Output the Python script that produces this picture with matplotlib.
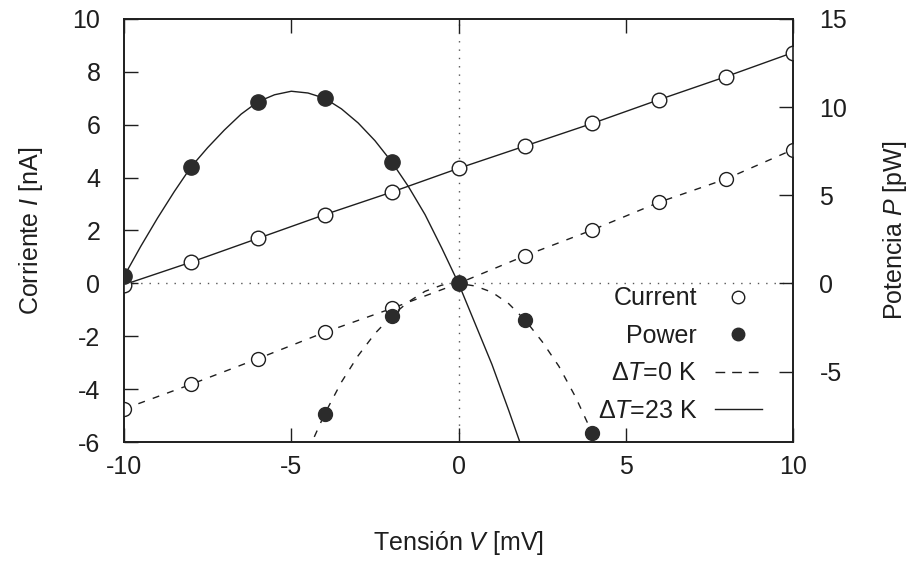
import numpy as np
import matplotlib
matplotlib.use('Agg')
from matplotlib import pyplot as plt
from matplotlib.lines import Line2D

plt.rcParams['font.family'] = 'Liberation Sans'
plt.rcParams['mathtext.fontset'] = 'custom'
plt.rcParams['mathtext.rm'] = 'Liberation Sans'
plt.rcParams['mathtext.it'] = 'Liberation Sans:italic'
plt.rcParams['axes.unicode_minus'] = False

# measured points (mV, nA, pW)
volts = [-10, -8, -6, -4, -2, 0, 2, 4, 6, 8, 10]
cur_dt23 = [-0.05, 0.8, 1.7, 2.6, 3.45, 4.35, 5.2, 6.05, 6.95, 7.82, 8.73]
cur_dt0 = [-4.75, -3.82, -2.85, -1.85, -0.95, 0.0, 1.05, 2.02, 3.07, 3.95, 5.06]

pow_v_dt23 = [-10, -8, -6, -4, -2, 0]
pow_dt23 = [0.42, 6.6, 10.3, 10.5, 6.9, 0.0]
pow_v_dt0 = [-4, -2, 0, 2, 4]
pow_dt0 = [-7.4, -1.85, 0.0, -2.1, -8.5]

# power fit curves at 0.5 mV steps
fit_v_dt23 = [-10, -9.5, -9, -8.5, -8, -7.5, -7, -6.5, -6, -5.5, -5, -4.5, -4,
              -3.5, -3, -2.5, -2, -1.5, -1, -0.5, 0, 0.5, 1, 1.5, 2]
fit_dt23 = [0.4, 2.1, 3.7, 5.2, 6.6, 7.7, 8.7, 9.6, 10.3, 10.7, 10.9, 10.8,
            10.5, 9.9, 9.1, 8.1, 6.9, 5.5, 3.9, 2.0, 0.0, -2.3, -4.6, -7.2, -9.9]
fit_v_dt0 = [-4.5, -4, -3.5, -3, -2.5, -2, -1.5, -1, -0.5, 0, 0.5, 1, 1.5, 2,
             2.5, 3, 3.5, 4, 4.5]
fit_dt0 = [-9.5, -7.4, -5.6, -4.1, -2.85, -1.85, -1.05, -0.45, -0.1, 0.0,
           -0.15, -0.5, -1.15, -2.1, -3.3, -4.7, -6.45, -8.5, -10.8]

ink = '#1e1e1e'
fs = 18
dash = (0, (5, 6))

fig = plt.figure(figsize=(9.14, 5.63), dpi=100)
ax = fig.add_axes([0.1357, 0.2149, 0.7319, 0.7514])
ax2 = ax.twinx()

ax.axhline(0, color='#555555', lw=1.0, ls=(0, (1, 5)), zorder=1)
ax.axvline(0, color='#555555', lw=1.0, ls=(0, (1, 5)), zorder=1)

ax.plot(volts, cur_dt23, color=ink, lw=1.0, marker='o', ms=10.5,
        mfc='white', mec=ink, mew=1.0, zorder=3)
ax.plot(volts, cur_dt0, color=ink, lw=1.0, ls=dash, marker='o', ms=10,
        mfc='white', mec=ink, mew=1.0, zorder=3)

ax2.plot(fit_v_dt23, fit_dt23, color=ink, lw=1.0, zorder=2)
ax2.plot(fit_v_dt0, fit_dt0, color=ink, lw=1.0, ls=dash, zorder=2)
ax2.plot(pow_v_dt23, pow_dt23, ls='none', marker='o', ms=11, mfc='#2b2b2b',
         mec='#2b2b2b', zorder=4)
ax2.plot(pow_v_dt0, pow_dt0, ls='none', marker='o', ms=10, mfc='#2b2b2b',
         mec='#2b2b2b', zorder=4)

ax.set_xlim(-10, 10)
ax.set_ylim(-6, 10)
ax2.set_ylim(-9, 15)
ax.set_xticks([-10, -5, 0, 5, 10])
ax.set_yticks(np.arange(-6, 11, 2))
ax2.set_yticks([-5, 0, 5, 10, 15])

ax.tick_params(axis='x', direction='in', top=True, length=10, width=1.0,
               pad=9, labelsize=fs, colors=ink)
ax.tick_params(axis='y', direction='in', length=10, width=1.0, pad=17,
               labelsize=fs, colors=ink)
ax2.tick_params(axis='y', direction='in', length=10, width=1.0, pad=19,
                labelsize=fs, colors=ink)
for a in (ax, ax2):
    for s in a.spines.values():
        s.set_linewidth(1.2)
        s.set_color(ink)

ax.set_xlabel('Tensión $V$ [mV]', fontsize=fs, color=ink, labelpad=36)
ax.set_ylabel('Corriente $I$ [nA]', fontsize=fs, color=ink, labelpad=20)
ax2.set_ylabel('Potencia $P$ [pW]', fontsize=fs, color=ink, labelpad=24,
               rotation=90)

handles = [
    Line2D([], [], ls='none', marker='o', ms=9, mfc='white', mec=ink),
    Line2D([], [], ls='none', marker='o', ms=9, mfc='#2b2b2b', mec='#2b2b2b'),
    Line2D([], [], color=ink, lw=1.0, ls=(0, (7, 5))),
    Line2D([], [], color=ink, lw=1.0),
]
labels = ['Current', 'Power', 'Δ$T$=0 K', 'Δ$T$=23 K']
leg = ax2.legend(handles, labels, loc='lower right', markerfirst=False,
                 frameon=False, fontsize=fs, handlelength=1.9,
                 handletextpad=0.7, labelspacing=0.54, borderpad=0,
                 borderaxespad=0, bbox_to_anchor=(0.954, 0.045))
for t in leg.get_texts():
    t.set_color(ink)

fig.savefig('out.png', dpi=100)
